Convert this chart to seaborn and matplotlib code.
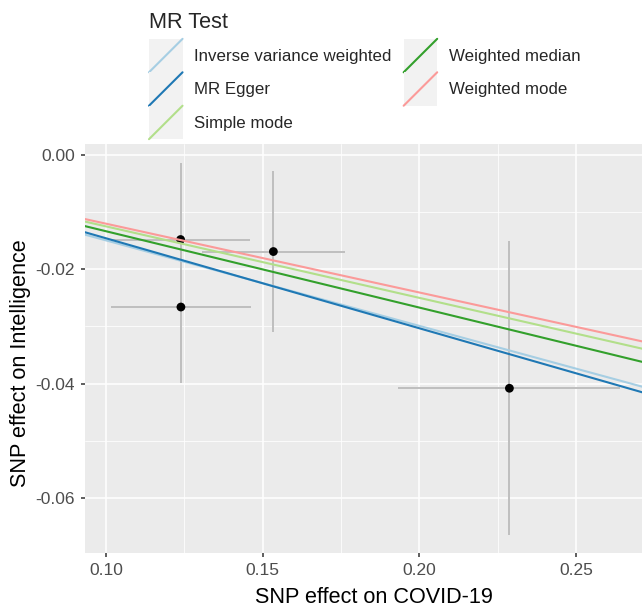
import numpy as np
import pandas as pd
import matplotlib
matplotlib.use("Agg")
import matplotlib.pyplot as plt
import seaborn as sns
from matplotlib.legend_handler import HandlerBase
from matplotlib.patches import Rectangle
from matplotlib.lines import Line2D

# SNP level estimates
snp_exposure = [0.1238, 0.1239, 0.1534, 0.2287]
snp_outcome = [-0.0148, -0.0266, -0.0169, -0.0408]
se_exposure = [0.0221, 0.0223, 0.0228, 0.0354]
se_outcome = [0.0133, 0.0133, 0.0141, 0.0257]

# MR methods (regression lines)
methods = ["Inverse variance weighted", "MR Egger", "Simple mode",
           "Weighted median", "Weighted mode"]
slopes = [-0.1495, -0.1574, -0.1250, -0.1335, -0.1203]
intercepts = [0.0, 0.00116, 0.0, 0.0, 0.0]
colors = ["#A6CEE3", "#1F78B4", "#B2DF8A", "#33A02C", "#FB9A99"]

x_ticks = [0.10, 0.15, 0.20, 0.25]
y_ticks = [0.00, -0.02, -0.04, -0.06]

df = pd.DataFrame({"exposure": snp_exposure, "outcome": snp_outcome,
                   "se_x": se_exposure, "se_y": se_outcome})

sns.set_theme(style="darkgrid", rc={
    "axes.facecolor": "#EBEBEB",
    "grid.color": "white",
    "axes.edgecolor": "none",
    "xtick.bottom": True, "ytick.left": True,
    "xtick.color": "#333333", "ytick.color": "#333333",
    "xtick.major.size": 3.2, "ytick.major.size": 3.2,
    "xtick.major.width": 1.1, "ytick.major.width": 1.1,
    "axes.unicode_minus": False,
})
plt.rcParams["font.family"] = ["Liberation Sans", "DejaVu Sans"]

fig = plt.figure(figsize=(6.42, 6.10), dpi=100)
# the panel runs a bit past the right edge of the picture (it is cut off there)
ax = fig.add_axes([85 / 642, 1 - 553 / 610, (663 - 85) / 642, (553 - 144) / 610])

# error bars
ax.errorbar(df["exposure"], df["outcome"], yerr=df["se_y"], fmt="none",
            ecolor="#BEBEBE", elinewidth=1.4, capsize=0, zorder=2)
ax.errorbar(df["exposure"], df["outcome"], xerr=df["se_x"], fmt="none",
            ecolor="#BEBEBE", elinewidth=1.4, capsize=0, zorder=2)
sns.scatterplot(data=df, x="exposure", y="outcome", color="black", s=40,
                edgecolor="none", ax=ax, zorder=3)

handles = []
for m, b, a, c in zip(methods, slopes, intercepts, colors):
    ax.axline((0, a), slope=b, color=c, lw=1.5, zorder=4)
    handles.append(Line2D([], [], color=c, lw=1.5, label=m))

ax.set_xlim(0.0933, 0.2777)
ax.set_ylim(-0.0696, 0.0019)
ax.set_xticks(x_ticks)
ax.set_xticklabels([f"{v:.2f}" for v in x_ticks])
ax.set_yticks(y_ticks)
ax.set_yticklabels([f"{v:.2f}" for v in y_ticks])
ax.set_xticks([0.125, 0.175, 0.225, 0.275], minor=True)
ax.set_yticks([-0.01, -0.03, -0.05], minor=True)
ax.tick_params(axis="both", which="major", labelsize=12.5, labelcolor="#4D4D4D",
               pad=4)
ax.tick_params(axis="both", which="minor", length=0)
ax.grid(which="major", color="white", lw=1.1)
ax.grid(which="minor", color="white", lw=0.55)
ax.set_xlabel("SNP effect on COVID-19", fontsize=15.6, color="black")
ax.set_ylabel("SNP effect on Intelligence", fontsize=15.6, color="black")
ax.xaxis.set_label_coords(0.5, -(587 - 553) / 409)
ax.yaxis.set_label_coords(-(85 - 31) / 578, (553 - 363) / 409)


class KeyHandler(HandlerBase):
    def create_artists(self, legend, orig_handle, xdescent, ydescent,
                       width, height, fontsize, trans):
        bg = Rectangle((-xdescent, -ydescent), width, height,
                       facecolor="#F2F2F2", edgecolor="none", transform=trans)
        ln = Line2D([-xdescent, -xdescent + width],
                    [-ydescent, -ydescent + height],
                    color=orig_handle.get_color(), lw=1.5, transform=trans)
        return [bg, ln]


leg = fig.legend(handles=handles, title="MR Test", ncol=2,
                 loc="upper left", bbox_to_anchor=(149 / 642, 1 - 12 / 610),
                 frameon=False, fontsize=12.2, title_fontsize=15.6,
                 handlelength=1.98, handleheight=2.66, labelspacing=0,
                 handletextpad=0.7, columnspacing=0.7, borderpad=0,
                 borderaxespad=0, alignment="left",
                 handler_map={Line2D: KeyHandler()})
leg._legend_box.sep = 4.2

fig.savefig("out.png", dpi=100)
